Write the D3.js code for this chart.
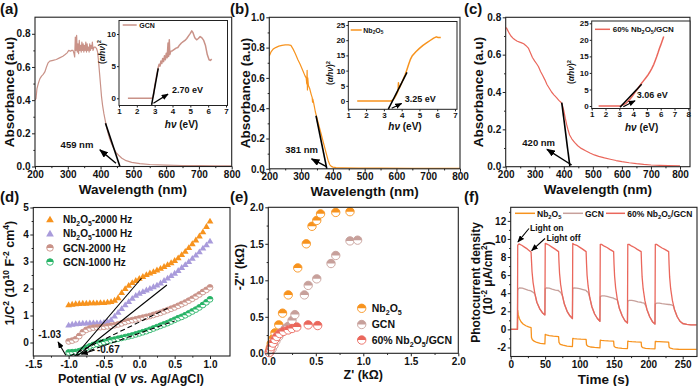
<!DOCTYPE html>
<html><head><meta charset="utf-8">
<script src="https://cdn.jsdelivr.net/npm/d3@7"></script>
<style>body{margin:0;background:#fff}</style>
</head><body>
<svg id="c" width="700" height="386" xmlns="http://www.w3.org/2000/svg"></svg>
<script>
// ---------------- DATA ----------------
// (a)-(c) UV-vis absorbance: [wavelength nm, absorbance]
const uvGCN = [[200,0.40],[203,0.41],[206,0.47],[210,0.50],[215,0.53],[220,0.545],[225,0.555],[230,0.57],[235,0.60],[240,0.625],[245,0.635],[255,0.64],[265,0.645],[275,0.655],[285,0.665],[292,0.675],[298,0.685],[303,0.70],[308,0.695],[312,0.70],[316,0.70],[319,0.68],[321,0.66],[323,0.78],[325,0.70],[327,0.79],[329,0.69],[331,0.74],[333,0.68],[335,0.76],[337,0.70],[339,0.73],[341,0.69],[343,0.75],[345,0.70],[347,0.74],[349,0.69],[351,0.73],[353,0.70],[355,0.75],[357,0.69],[359,0.74],[361,0.70],[363,0.72],[365,0.69],[367,0.74],[369,0.70],[371,0.73],[373,0.71],[375,0.75],[377,0.70],[380,0.72],[384,0.72],[388,0.71],[391,0.69],[394,0.63],[397,0.56],[400,0.49],[403,0.42],[406,0.37],[410,0.32],[414,0.28],[418,0.24],[423,0.20],[428,0.165],[434,0.135],[440,0.11],[447,0.085],[455,0.068],[465,0.05],[478,0.035],[495,0.025],[520,0.017],[550,0.012],[600,0.008],[650,0.006],[700,0.005],[750,0.004],[800,0.004]];
const uvNb2O5 = [[200,0.745],[205,0.77],[212,0.79],[220,0.80],[230,0.81],[240,0.815],[250,0.818],[260,0.818],[268,0.815],[275,0.79],[282,0.76],[290,0.72],[297,0.69],[305,0.65],[312,0.615],[316,0.60],[318,0.56],[319,0.65],[320,0.52],[321,0.60],[323,0.55],[327,0.53],[332,0.49],[335,0.47],[336,0.44],[337,0.46],[340,0.43],[345,0.375],[350,0.335],[355,0.295],[360,0.255],[365,0.215],[370,0.175],[375,0.135],[380,0.095],[385,0.055],[390,0.028],[395,0.016],[400,0.011],[410,0.008],[430,0.007],[480,0.005],[550,0.004],[650,0.003],[800,0.003]];
const uvComposite = [[200,0.745],[203,0.742],[207,0.73],[212,0.715],[218,0.70],[225,0.688],[232,0.68],[240,0.672],[248,0.667],[255,0.663],[262,0.658],[270,0.648],[278,0.635],[285,0.61],[292,0.585],[300,0.565],[307,0.55],[313,0.535],[320,0.51],[327,0.49],[335,0.465],[342,0.44],[350,0.42],[358,0.40],[366,0.385],[375,0.37],[383,0.355],[390,0.345],[395,0.33],[400,0.30],[405,0.26],[410,0.225],[415,0.195],[420,0.17],[428,0.148],[437,0.13],[448,0.112],[460,0.098],[475,0.085],[490,0.073],[505,0.063],[520,0.055],[540,0.047],[560,0.04],[580,0.033],[600,0.027],[625,0.021],[650,0.016],[675,0.012],[700,0.009],[730,0.007],[760,0.006],[800,0.005]];
// insets: Tauc plots [hv eV, (αhv)^2]
const taucGCN = [[1.5,0],[2.0,0],[2.5,0],[2.85,0],[2.92,0.3],[3.0,1.8],[3.1,3.4],[3.2,4.8],[3.25,5.3],[3.3,5.0],[3.35,5.8],[3.4,5.4],[3.45,6.2],[3.5,5.7],[3.55,6.6],[3.6,6.0],[3.65,7.0],[3.7,6.3],[3.75,8.6],[3.78,6.5],[3.82,9.1],[3.85,6.8],[3.9,7.3],[4.0,7.4],[4.1,7.6],[4.2,7.8],[4.3,7.9],[4.4,8.3],[4.5,8.6],[4.6,8.8],[4.7,9.0],[4.8,9.3],[4.9,9.7],[5.0,10.1],[5.08,10.5],[5.15,10.2],[5.25,9.4],[5.35,9.1],[5.45,9.3],[5.55,9.6],[5.65,9.4],[5.75,9.0],[5.85,8.2],[5.95,6.8],[6.05,6.0],[6.12,5.9],[6.2,6.1]];
const taucNb2O5 = [[1.5,0],[2.0,0],[2.5,0],[3.0,0],[3.4,0],[3.5,0.3],[3.6,1.0],[3.7,2.1],[3.8,3.4],[3.82,6.0],[3.85,4.0],[3.9,4.6],[4.0,5.9],[4.1,7.3],[4.2,8.7],[4.3,10.4],[4.4,12.2],[4.5,13.8],[4.6,14.9],[4.8,16.2],[5.0,17.3],[5.2,18.3],[5.4,19.1],[5.6,19.9],[5.8,20.7],[5.95,21.1],[6.05,20.9],[6.2,20.9]];
const taucComposite = [[1.5,0],[2.0,0],[2.5,0],[3.0,0],[3.15,0.1],[3.3,0.4],[3.45,0.7],[3.6,1.3],[3.75,2.0],[3.9,2.7],[4.0,3.3],[4.15,4.2],[4.3,5.0],[4.45,5.9],[4.6,6.8],[4.75,7.6],[4.9,8.4],[5.05,9.2],[5.2,10.2],[5.35,11.3],[5.5,12.6],[5.6,13.7],[5.7,14.8],[5.8,16.0],[5.9,17.3],[6.0,18.4],[6.1,19.6],[6.22,21.0]];
// tangent / intercept annotations
const tangentA = [[415,0.26],[459,0]], arrowA = [[447,0.02],[398,0.1]];
const tangentB = [[347,0.35],[381,0]], arrowB = [[380,0.014],[333,0.065]];
const tangentC = [[393,0.343],[421,0]], arrowC = [[427,0.009],[342,0.093]];
const tangentAi = [[2.83,-1.04],[3.2,4.67]], arrowAi = [[2.93,-0.78],[3.75,0.65]];
const tangentBi = [[3.25,-2.7],[4.3,9.4]], arrowBi = [[3.44,-2.4],[4.0,-0.8]];
const tangentCi = [[3.05,-0.4],[4.62,6.6]], arrowCi = [[3.29,-0.2],[4.14,1.6]];

// (d) Mott-Schottky
const potential = [-1.00,-0.95,-0.90,-0.85,-0.80,-0.75,-0.70,-0.65,-0.60,-0.55,-0.50,-0.45,-0.40,-0.35,-0.30,-0.25,-0.20,-0.15,-0.10,-0.05,0.00,0.05,0.10,0.15,0.20,0.25,0.30,0.35,0.40,0.45,0.50,0.55,0.60,0.65,0.70,0.75,0.80,0.85,0.90,0.95,1.00];
const msNb2000 = [1.40,1.42,1.44,1.45,1.46,1.46,1.47,1.47,1.47,1.48,1.48,1.50,1.52,1.57,1.66,1.85,2.00,2.12,2.22,2.30,2.38,2.45,2.52,2.58,2.63,2.69,2.75,2.82,2.89,2.96,3.04,3.14,3.26,3.38,3.52,3.66,3.80,3.95,4.10,4.30,4.50];
const msNb1000 = [0.65,0.68,0.70,0.71,0.72,0.72,0.73,0.73,0.73,0.74,0.75,0.78,0.85,0.98,1.12,1.26,1.40,1.52,1.64,1.75,1.83,1.89,1.95,2.01,2.07,2.13,2.21,2.30,2.39,2.48,2.57,2.67,2.78,2.89,3.00,3.12,3.24,3.36,3.50,3.62,3.76];
const msGCN2000 = [0.04,0.07,0.12,0.24,0.38,0.47,0.52,0.55,0.56,0.57,0.58,0.60,0.62,0.64,0.67,0.71,0.76,0.80,0.83,0.86,0.89,0.92,0.95,0.98,1.02,1.06,1.10,1.15,1.20,1.25,1.30,1.36,1.42,1.48,1.55,1.62,1.70,1.78,1.87,1.95,2.04];
const msGCN1000 = [-0.37,-0.36,-0.35,-0.32,-0.27,-0.20,-0.14,-0.09,-0.05,-0.01,0.02,0.05,0.08,0.11,0.14,0.17,0.20,0.23,0.26,0.30,0.34,0.38,0.42,0.47,0.52,0.57,0.62,0.67,0.72,0.78,0.84,0.90,0.95,1.01,1.08,1.15,1.22,1.30,1.39,1.49,1.60];
const msFitSolid = [[[-0.91,-0.5],[0.03,2.38]],[[-0.88,-0.5],[0.39,2.13]]];
const msFitDashed = [[[-0.98,-0.5],[0.40,1.27]],[[-0.92,-0.5],[0.50,0.80]]];
const msLabels = ["Nb_{2}O_{5}-2000 Hz","Nb_{2}O_{5}-1000 Hz","GCN-2000 Hz","GCN-1000 Hz"];

// (e) Nyquist [Z' kΩ, -Z'' kΩ]
const eisNb2O5 = [[0.01,0.02],[0.02,0.07],[0.03,0.13],[0.05,0.2],[0.07,0.28],[0.11,0.39],[0.15,0.55],[0.21,0.8],[0.31,1.17],[0.4,1.5],[0.46,1.74],[0.51,1.82],[0.55,1.91],[0.71,1.93],[0.86,1.94]];
const eisGCN = [[0.02,0.02],[0.04,0.06],[0.06,0.11],[0.08,0.17],[0.11,0.23],[0.14,0.29],[0.18,0.34],[0.21,0.37],[0.25,0.45],[0.28,0.53],[0.38,0.8],[0.42,0.93],[0.51,1.02],[0.66,1.23],[0.71,1.34],[0.86,1.54],[0.94,1.55]];
const eisComposite = [[0.01,0.01],[0.02,0.05],[0.03,0.09],[0.05,0.14],[0.07,0.19],[0.09,0.23],[0.12,0.27],[0.16,0.3],[0.21,0.32],[0.25,0.34],[0.3,0.36],[0.42,0.39],[0.52,0.38]];
const eisLabels = ["Nb_{2}O_{5}","GCN","60% Nb_{2}O_{5}/GCN"];

// (f) transient photocurrent [time s, 10^-2 µA/cm^2]
const ptNb2O5 = [[0,0],[9.8,0],[10.2,2.1],[11,1.6],[12.5,1.2],[15,0.85],[18,0.6],[22,0.4],[26,0.27],[29.6,0.2],[30.2,-0.9],[31.5,-1.15],[34,-1.3],[38,-1.45],[43,-1.55],[49.7,-1.6],[50.2,-0.55],[52,-0.6],[56,-0.68],[62,-0.75],[69.6,-0.8],[70.2,-1.45],[72,-1.65],[76,-1.75],[82,-1.85],[89.7,-1.9],[90.2,-1.0],[92,-1.02],[96,-1.05],[102,-1.08],[109.6,-1.1],[110.2,-1.7],[112,-1.85],[116,-1.95],[122,-2.0],[129.7,-2.05],[130.2,-1.2],[132,-1.22],[136,-1.25],[142,-1.28],[149.6,-1.3],[150.2,-1.85],[152,-1.98],[156,-2.05],[162,-2.1],[169.7,-2.12],[170.2,-1.3],[172,-1.32],[176,-1.35],[182,-1.38],[189.6,-1.4],[190.2,-1.9],[192,-2.02],[196,-2.1],[202,-2.13],[209.7,-2.15],[210.2,-1.32],[212,-1.34],[216,-1.36],[222,-1.38],[229.6,-1.4],[230.2,-1.95],[232,-2.08],[236,-2.15],[244,-2.2],[255,-2.22],[270,-2.22]];
const ptGCN = [[0,0],[9.8,0],[10.2,4.3],[11,4.5],[13,4.6],[17,4.55],[21,4.45],[25,4.35],[29.6,4.25],[30.4,4.2],[32.5,4.1],[35,3.95],[38,3.0],[42,2.3],[46,1.85],[49.7,1.6],[50.2,4.5],[52,4.6],[56,4.55],[60,4.45],[65,4.35],[69.6,4.3],[70.4,4.2],[72.5,4.1],[75,3.75],[78,2.8],[82,2.0],[86,1.5],[89.7,1.2],[90.2,4.5],[92,4.6],[96,4.55],[100,4.5],[105,4.4],[109.6,4.3],[110.4,4.2],[112.5,4.1],[115,3.45],[118,2.5],[122,1.7],[126,1.2],[129.7,0.9],[130.2,3.6],[132,3.7],[136,3.7],[140,3.65],[145,3.55],[149.6,3.45],[150.4,3.4],[152.5,3.35],[155,3.25],[158,2.3],[162,1.5],[166,0.95],[169.7,0.7],[170.2,3.1],[172,3.2],[176,3.2],[180,3.15],[185,3.05],[189.6,3.0],[190.4,2.95],[194,2.9],[196.5,2.6],[198,2.2],[202,1.4],[206,0.85],[209.7,0.6],[210.2,2.8],[212,2.9],[216,2.9],[220,2.85],[225,2.8],[229.6,2.75],[230.4,2.75],[234,2.7],[236.5,2.6],[238,2.2],[242,1.4],[246,0.9],[250,0.65],[256,0.55],[262,0.5],[270,0.5]];
const ptComposite = [[0,0],[9.8,0],[10.2,9.3],[12,9.45],[16,9.3],[20,9.1],[24,8.9],[28,8.65],[29.6,8.55],[30.2,7.6],[31,6.4],[32.5,5.2],[35,4.0],[38,3.0],[42,2.3],[46,1.85],[49.7,1.6],[50.2,9.5],[52,9.45],[56,9.3],[60,9.1],[64,8.9],[69.6,8.6],[70.2,7.4],[71,6.2],[72.5,5.0],[75,3.8],[78,2.8],[82,2.0],[86,1.5],[89.7,1.2],[90.2,9.5],[92,9.4],[96,9.3],[100,9.1],[104,8.9],[109.6,8.6],[110.2,7.3],[111,6.0],[112.5,4.8],[115,3.5],[118,2.5],[122,1.7],[126,1.2],[129.7,0.9],[130.2,9.4],[132,9.4],[136,9.2],[140,9.05],[144,8.85],[149.6,8.6],[150.2,7.2],[151,5.9],[152.5,4.6],[155,3.3],[158,2.3],[162,1.5],[166,0.95],[169.7,0.7],[170.2,9.4],[172,9.4],[176,9.2],[180,9.05],[184,8.85],[189.6,8.6],[190.2,7.2],[191,5.8],[192.5,4.5],[195,3.2],[198,2.2],[202,1.4],[206,0.85],[209.7,0.6],[210.2,9.4],[212,9.4],[216,9.2],[220,9.0],[224,8.85],[229.6,8.6],[230.2,7.2],[231,5.8],[232.5,4.5],[235,3.2],[238,2.2],[242,1.4],[246,0.9],[250,0.65],[256,0.55],[262,0.5],[270,0.5]];
const ptLabels = ["Nb_{2}O_{5}","GCN","60% Nb_{2}O_{5}/GCN"];
const lightOnPt = [10.5,9.5], lightOffPt = [29,8.6];

// tick values
const ticksWl = [200,300,400,500,600,700,800];
const ticksAbsA = [0,0.2,0.4,0.6,0.8], ticksAbsB = [0,0.2,0.4,0.6,0.8,1.0], ticksAbsC = [0,0.2,0.4,0.6,0.8];
const ticksHv7 = [1,2,3,4,5,6,7], ticksHv8 = [1,2,3,4,5,6,7,8];
const ticksTaucA = [0,5,10], ticksTauc25 = [0,5,10,15,20,25];
const ticksPot = [-1.5,-1.0,-0.5,0.0,0.5,1.0], ticksMs = [0,1,2,3,4,5];
const ticksZ = [0,0.5,1.0,1.5,2.0];
const ticksTime = [0,50,100,150,200,250], ticksPc = [-2,0,2,4,6,8,10,12];

// ---------------- DRAWING ----------------
const FONT = 'Arial, "Liberation Sans", Helvetica, sans-serif';
const C = {gcn:'#c99288', nb:'#f7931e', comp:'#ea675c', nb1k:'#a99bdb', gcn1k:'#27b366', gcnPt:'#c7a09b', axis:'#222'};
const svg = d3.select('#c');
const defs = svg.append('defs');
defs.append('marker').attr('id','ah').attr('viewBox','0 0 10 8').attr('refX',9).attr('refY',4)
  .attr('markerWidth',9).attr('markerHeight',7).attr('markerUnits','userSpaceOnUse').attr('orient','auto')
  .append('path').attr('d','M0,0L10,4L0,8z').attr('fill','#000');
defs.append('marker').attr('id','ahs').attr('viewBox','0 0 10 8').attr('refX',9).attr('refY',4)
  .attr('markerWidth',7).attr('markerHeight',5.6).attr('markerUnits','userSpaceOnUse').attr('orient','auto')
  .append('path').attr('d','M0,0L10,4L0,8z').attr('fill','#000');

function rich(t, s, fs){
  const re = /([_^*])\{([^}]*)\}/g; let last = 0, m; const parts = [];
  while((m = re.exec(s))){ if(m.index > last) parts.push([s.slice(last, m.index), 0]); parts.push([m[2], m[1]]); last = re.lastIndex; }
  if(last < s.length) parts.push([s.slice(last), 0]);
  let cur = 0;
  parts.forEach(([str, k]) => {
    const target = k === '_' ? 0.28*fs : k === '^' ? -0.42*fs : 0;
    const ts = t.append('tspan').text(str);
    if(target - cur) ts.attr('dy', target - cur);
    if(k === '_' || k === '^') ts.attr('font-size', fs*0.68);
    if(k === '*') ts.attr('font-style','italic');
    cur = target;
  });
}
function txt(x, y, s, fs, o = {}){
  const t = svg.append('text').attr('font-size', fs).attr('font-family', FONT).attr('font-weight','bold').attr('fill','#111');
  if(o.rot){ t.attr('transform', `translate(${x},${y}) rotate(-90)`).attr('text-anchor','middle').attr('dy','0.35em'); }
  else { t.attr('x', x).attr('y', y); if(o.anchor) t.attr('text-anchor', o.anchor); }
  rich(t, s, fs);
  return t;
}
let clipN = 0;
function panel(fr, xd, xr, yd, yr, bg){
  const g = svg.append('g');
  if(bg) g.append('rect').attr('x',fr[0]).attr('y',fr[1]).attr('width',fr[2]-fr[0]).attr('height',fr[3]-fr[1]).attr('fill','#fff');
  const x = d3.scaleLinear().domain(xd).range(xr);
  const y = d3.scaleLinear().domain(yd).range(yr);
  const id = 'clip' + (clipN++);
  defs.append('clipPath').attr('id', id).append('rect').attr('x',fr[0]).attr('y',fr[1]).attr('width',fr[2]-fr[0]).attr('height',fr[3]-fr[1]);
  const plot = g.append('g').attr('clip-path', `url(#${id})`);
  const over = g.append('g');
  return {g, x, y, plot, over, fr};
}
function axes(p, o){
  const [l,t,r,b] = p.fr;
  const ts = o.ts || 3, pad = o.pad || 1.5;
  const gx = p.g.append('g').attr('transform', `translate(0,${b})`)
    .call(d3.axisBottom(p.x).tickValues(o.xt).tickFormat(o.xf).tickSizeInner(ts).tickSizeOuter(0).tickPadding(pad));
  const gy = p.g.append('g').attr('transform', `translate(${l},0)`)
    .call(d3.axisLeft(p.y).tickValues(o.yt).tickFormat(o.yf).tickSizeInner(ts).tickSizeOuter(0).tickPadding(pad));
  const list = [gx, gy];
  if(o.xm){ list.push(p.g.append('g').attr('transform', `translate(0,${b})`).call(d3.axisBottom(p.x).tickValues(o.xm).tickFormat(() => '').tickSizeInner(ts*0.55).tickSizeOuter(0))); }
  if(o.ym){ list.push(p.g.append('g').attr('transform', `translate(${l},0)`).call(d3.axisLeft(p.y).tickValues(o.ym).tickFormat(() => '').tickSizeInner(ts*0.55).tickSizeOuter(0))); }
  list.forEach(a => {
    a.select('.domain').remove();
    a.attr('font-family', FONT).attr('font-size', o.fs).attr('font-weight','bold');
    a.selectAll('line').attr('stroke', C.axis).attr('stroke-width', 1);
    a.selectAll('text').attr('fill', '#111');
  });
  p.g.append('rect').attr('x',l).attr('y',t).attr('width',r-l).attr('height',b-t).attr('fill','none').attr('stroke',C.axis).attr('stroke-width', o.sw || 1.1);
}
const f1 = d => d.toFixed(1), f0 = d => String(d), fm = d => (d < 0 ? '-' : '') + Math.abs(d).toFixed(1), fmi = d => (d < 0 ? '-' : '') + Math.abs(d);
function curve(p, data, color, w, g){
  (g || p.plot).append('path').datum(data).attr('fill','none').attr('stroke',color).attr('stroke-width',w).attr('stroke-linejoin','round')
    .attr('d', d3.line().x(d => p.x(d[0])).y(d => p.y(d[1])));
}
function seg(p, pts, o = {}){
  const l = (o.g || p.over).append('line').attr('x1',p.x(pts[0][0])).attr('y1',p.y(pts[0][1])).attr('x2',p.x(pts[1][0])).attr('y2',p.y(pts[1][1]))
    .attr('stroke','#000').attr('stroke-width', o.w || 1.5);
  if(o.dash) l.attr('stroke-dasharray', o.dash);
  if(o.arrow) l.attr('marker-end', `url(#${o.arrow})`);
  return l;
}
function halfCircle(g, cx, cy, r, color){
  const m = g.append('g').attr('transform', `translate(${cx},${cy})`);
  m.append('circle').attr('r', r).attr('fill', '#fff').attr('stroke', color).attr('stroke-width', 0.9);
  m.append('path').attr('d', `M${-r},0A${r},${r} 0 0 1 ${r},0Z`).attr('fill', color);
}
function triangle(g, cx, cy, color, size){
  g.append('path').attr('transform', `translate(${cx},${cy + 0.6})`).attr('d', d3.symbol(d3.symbolTriangle, size || 20)()).attr('fill', color);
}
const insetAxis = {ts:2, pad:1, fs:8, sw:1};
const TF = 10;

// ---- (a) ----
{
  const p = panel([35,17.2,231.7,166.5], [200,800], [35,231.7], [0,0.9], [166.5,17.2]);
  curve(p, uvGCN, C.gcn, 1.2);
  seg(p, tangentA, {w:1.6});
  seg(p, arrowA, {w:1.4, arrow:'ah'});
  axes(p, {xt:ticksWl, xf:f0, yt:ticksAbsA, yf:f1, fs:TF, xm:[250,350,450,550,650,750], ym:[0.1,0.3,0.5,0.7]});
  txt(p.x(378), p.y(0.11), '459 nm', 9.5, {anchor:'end'});
  const q = panel([119,20.5,227.5,105.5], [1,7], [119,226], [0,10], [98.3,34], true);
  curve(q, taucGCN, C.gcn, 1.5);
  seg(q, tangentAi, {w:1.5});
  seg(q, arrowAi, {w:1.2, arrow:'ahs'});
  axes(q, Object.assign({xt:ticksHv7, xf:f0, yt:ticksTaucA, yf:f0}, insetAxis));
  svg.append('line').attr('x1',122.7).attr('x2',136.7).attr('y1',25).attr('y2',25).attr('stroke',C.gcn).attr('stroke-width',1.5);
  txt(139.3, 27.5, 'GCN', 7);
  txt(q.x(3.97), q.y(0.75), '2.70 eV', 9);
  txt(181.5, 128, '*{hν} (eV)', 10, {anchor:'middle'});
  txt(102, 52, '(*{αhν})^{2}', 8.5, {rot:true});
}
// ---- (b) ----
{
  const p = panel([269.3,17.3,460,168.8], [200,800], [269.3,460], [0,1], [168.8,17.3]);
  curve(p, uvNb2O5, C.nb, 1.2);
  seg(p, tangentB, {w:1.6});
  seg(p, arrowB, {w:1.4, arrow:'ah'});
  axes(p, {xt:ticksWl, xf:f0, yt:ticksAbsB, yf:f1, fs:TF, xm:[250,350,450,550,650,750], ym:[0.1,0.3,0.5,0.7,0.9]});
  txt(p.x(353), p.y(0.105), '381 nm', 9.5, {anchor:'end'});
  const q = panel([348.3,21.5,457,109.3], [1,7], [348.3,455], [0,25], [101,25], true);
  curve(q, taucNb2O5, C.nb, 1.5);
  seg(q, tangentBi, {w:1.5});
  seg(q, arrowBi, {w:1.2, arrow:'ahs'});
  axes(q, Object.assign({xt:ticksHv7, xf:f0, yt:ticksTauc25, yf:f0}, insetAxis));
  svg.append('line').attr('x1',350.7).attr('x2',361.7).attr('y1',30).attr('y2',30).attr('stroke',C.nb).attr('stroke-width',1.5);
  txt(363.3, 32.5, 'Nb_{2}O_{5}', 7);
  txt(q.x(4.18), q.y(-0.2), '3.25 eV', 9);
  txt(405, 130, '*{hν} (eV)', 10, {anchor:'middle'});
  txt(330.5, 73, '(*{αhν})^{2}', 8.5, {rot:true});
}
// ---- (c) ----
{
  const p = panel([505.7,17.3,690,166.7], [200,800], [505.7,680], [0,0.8], [166.7,17.3]);
  curve(p, uvComposite, C.comp, 1.2);
  seg(p, tangentC, {w:1.6});
  seg(p, arrowC, {w:1.4, arrow:'ah'});
  axes(p, {xt:ticksWl, xf:f0, yt:ticksAbsC, yf:f1, fs:TF, xm:[250,350,450,550,650,750], ym:[0.1,0.3,0.5,0.7]});
  txt(p.x(370), p.y(0.11), '420 nm', 9.5, {anchor:'end'});
  const q = panel([591.7,21,690,108.5], [1,8], [591.7,688.3], [0,25], [106,23.3], true);
  curve(q, taucComposite, C.comp, 1.5);
  seg(q, tangentCi, {w:1.5});
  seg(q, arrowCi, {w:1.2, arrow:'ahs'});
  axes(q, Object.assign({xt:ticksHv8, xf:f0, yt:ticksTauc25, yf:f0}, insetAxis));
  svg.append('line').attr('x1',595).attr('x2',610).attr('y1',29.3).attr('y2',29.3).attr('stroke',C.comp).attr('stroke-width',1.5);
  txt(612.7, 32, '60% Nb_{2}O_{5}/GCN', 8);
  txt(q.x(4.26), q.y(2.4), '3.06 eV', 9);
  txt(641.7, 130.5, '*{hν} (eV)', 10, {anchor:'middle'});
  txt(571.5, 72, '(*{αhν})^{2}', 8.5, {rot:true});
}
// ---- (d) ----
{
  const p = panel([33.3,207.5,230,356], [-1.5,1.0], [33.3,210], [-0.5,5], [356,207.5]);
  const series = [[msNb2000,C.nb,'t'],[msNb1000,C.nb1k,'t'],[msGCN2000,C.gcn,'c'],[msGCN1000,C.gcn1k,'c']];
  series.forEach(([vals, col, kind]) => {
    vals.forEach((v, i) => {
      if(kind === 't') triangle(p.plot, p.x(potential[i]), p.y(v), col, 20);
      else halfCircle(p.plot, p.x(potential[i]), p.y(v), 2.9, col);
    });
  });
  msFitSolid.forEach(s => seg(p, s, {w:1.1, g:p.plot}));
  msFitDashed.forEach(s => seg(p, s, {w:1.1, dash:'5,3', g:p.plot}));
  axes(p, {xt:ticksPot, xf:fm, yt:ticksMs, yf:fmi, fs:TF, xm:[-1.25,-0.75,-0.25,0.25,0.75], ym:[0.5,1.5,2.5,3.5,4.5]});
  // legend
  const ly = [219.5,233.7,247.9,262];
  series.forEach(([vals, col, kind], i) => {
    if(kind === 't') triangle(svg, 50, ly[i], col, 26); else halfCircle(svg, 50, ly[i], 3.3, col);
    txt(63, ly[i] + 3.6, msLabels[i], 10);
  });
  // intercept annotations
  svg.append('line').attr('x1',p.x(-1.04)).attr('y1',p.y(-0.47)).attr('x2',p.x(-1.15)).attr('y2',p.y(0.02)).attr('stroke','#000').attr('stroke-width',1.1).attr('marker-end','url(#ahs)');
  txt(p.x(-1.43), p.y(0.17), '-1.03', 10);
  svg.append('line').attr('x1',p.x(-0.63)).attr('y1',p.y(-0.28)).attr('x2',p.x(-0.82)).attr('y2',p.y(-0.43)).attr('stroke','#000').attr('stroke-width',1.1).attr('marker-end','url(#ahs)');
  txt(p.x(-0.6), p.y(-0.38), '-0.67', 10);
}
// ---- (e) ----
{
  const p = panel([268.3,207.3,458.3,353.3], [0,2], [268.3,458.3], [0,2], [353.3,207.3]);
  const series = [[eisNb2O5,C.nb],[eisGCN,C.gcnPt],[eisComposite,C.comp]];
  series.forEach(([pts, col]) => pts.forEach(d => halfCircle(p.g, p.x(d[0]), p.y(d[1]), 4.2, col)));
  axes(p, {xt:ticksZ, xf:f1, yt:ticksZ, yf:f1, fs:TF, xm:[0.25,0.75,1.25,1.75], ym:[0.25,0.75,1.25,1.75]});
  const ly = [308.3,324.5,340];
  series.forEach(([pts, col], i) => { halfCircle(svg, 361.7, ly[i], 4.2, col); txt(371.7, ly[i] + 3.8, eisLabels[i], 10.5); });
}
// ---- (f) ----
{
  const p = panel([510.7,207.3,697,356.5], [0,250], [510.7,682.7], [-3,13.5], [356.5,207.3]);
  curve(p, ptNb2O5, C.nb, 1.3);
  curve(p, ptGCN, C.gcnPt, 1.3);
  curve(p, ptComposite, C.comp, 1.3);
  axes(p, {xt:ticksTime, xf:f0, yt:ticksPc, yf:fmi, fs:TF, xm:[25,75,125,175,225], ym:[-1,1,3,5,7,9,11,13]});
  const lx = [[515,535,537],[563,583,585],[606,625,627.3]];
  [C.nb, C.gcnPt, C.comp].forEach((col, i) => {
    svg.append('line').attr('x1',lx[i][0]).attr('x2',lx[i][1]).attr('y1',213.3).attr('y2',213.3).attr('stroke',col).attr('stroke-width',1.5);
    txt(lx[i][2], 216.5, ptLabels[i], 8.5);
  });
  svg.append('line').attr('x1',529).attr('y1',228.5).attr('x2',p.x(lightOnPt[0])).attr('y2',p.y(lightOnPt[1]) - 1.5).attr('stroke','#000').attr('stroke-width',1.1).attr('marker-end','url(#ahs)');
  txt(530, 231, 'Light on', 8.5);
  svg.append('line').attr('x1',545).attr('y1',238.5).attr('x2',p.x(lightOffPt[0]) + 1).attr('y2',p.y(lightOffPt[1]) - 1).attr('stroke','#000').attr('stroke-width',1.1).attr('marker-end','url(#ahs)');
  txt(546.5, 241, 'Light off', 8.5);
}

// ---- axis titles & panel labels ----
txt(133, 193.5, 'Wavelength (nm)', 13.5, {anchor:'middle'});
txt(364.7, 195.5, 'Wavelength (nm)', 13.5, {anchor:'middle'});
txt(598, 193.5, 'Wavelength (nm)', 13.5, {anchor:'middle'});
txt(9.5, 92, 'Absorbance (a.u)', 13.5, {rot:true});
txt(245.5, 93, 'Absorbance (a.u)', 13.5, {rot:true});
txt(478, 92, 'Absorbance (a.u)', 13.5, {rot:true});
txt(131, 382.5, 'Potential (V *{vs.} Ag/AgCl)', 12.5, {anchor:'middle'});
txt(9.5, 273, '1/C^{2} (10^{10} F^{-2} cm^{4})', 12.5, {rot:true});
txt(363.3, 378.5, "Z' (kΩ)", 12.5, {anchor:'middle'});
txt(240, 267, "-Z'' (kΩ)", 12.5, {rot:true});
txt(603.5, 383.5, 'Time (s)', 13.5, {anchor:'middle'});
txt(476, 282.5, 'Photocurrent density', 12, {rot:true});
txt(487.5, 278, '(10^{-2} μA/cm^{2})', 12, {rot:true});
txt(0, 14, '(a)', 15); txt(230, 14, '(b)', 15); txt(464, 14, '(c)', 15);
txt(0, 202, '(d)', 15); txt(230, 202, '(e)', 15); txt(464, 202, '(f)', 15);
</script>
</body></html>
